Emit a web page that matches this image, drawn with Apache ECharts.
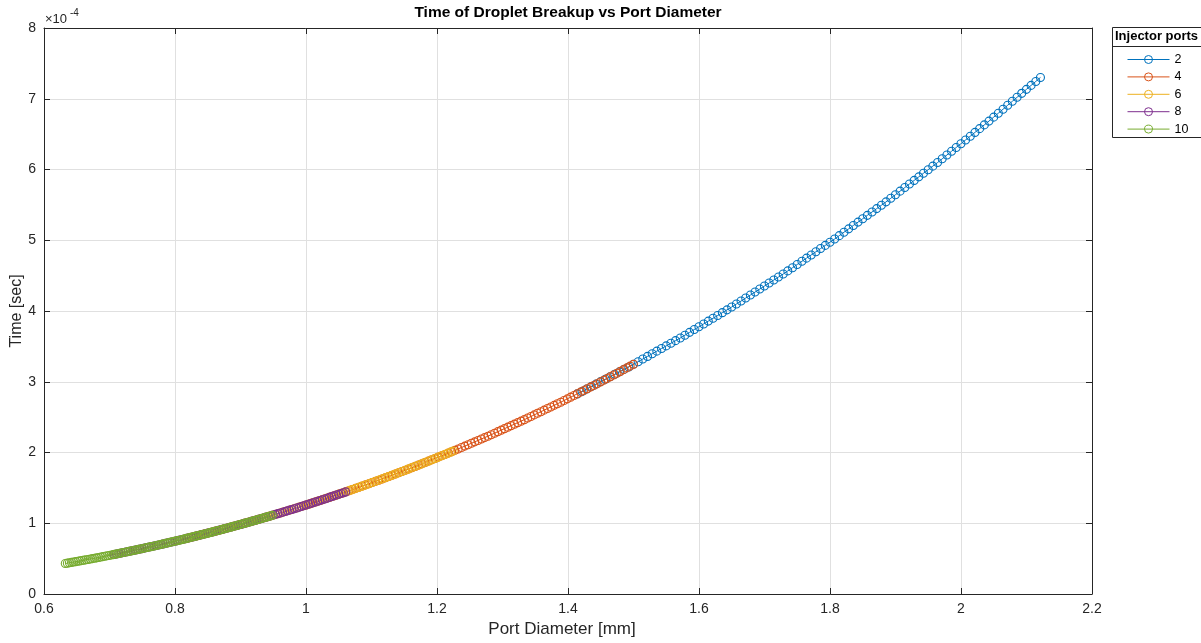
<!DOCTYPE html>
<html>
<head>
<meta charset="utf-8">
<script src="https://cdn.jsdelivr.net/npm/echarts@6/dist/echarts.min.js"></script>
<style>
html,body{margin:0;padding:0;background:#fff;}
#chart{width:1201px;height:643px;}
</style>
</head>
<body>
<div id="chart"></div>
<script>
// Legend names (injector ports)
const portNames = ['2', '4', '6', '8', '10'];
const xTicks = ['0.6','0.8','1','1.2','1.4','1.6','1.8','2','2.2'];
const yTicks = ['0','1','2','3','4','5','6','7','8'];

// Port diameter [mm] and time [x 1e-4 sec] for each series
const diam2 = [1.4142,1.4214,1.4285,1.4356,1.4428,1.4499,1.4571,1.4642,1.4714,1.4785,1.4856,1.4928,1.4999,1.5071,1.5142,1.5214,1.5285,1.5356,1.5428,1.5499,1.5571,1.5642,1.5714,1.5785,1.5856,1.5928,1.5999,1.6071,1.6142,1.6214,1.6285,1.6356,1.6428,1.6499,1.6571,1.6642,1.6713,1.6785,1.6856,1.6928,1.6999,1.7071,1.7142,1.7213,1.7285,1.7356,1.7428,1.7499,1.7571,1.7642,1.7713,1.7785,1.7856,1.7928,1.7999,1.8071,1.8142,1.8213,1.8285,1.8356,1.8428,1.8499,1.8570,1.8642,1.8713,1.8785,1.8856,1.8928,1.8999,1.9070,1.9142,1.9213,1.9285,1.9356,1.9427,1.9499,1.9570,1.9642,1.9713,1.9785,1.9856,1.9927,1.9999,2.0070,2.0142,2.0213,2.0284,2.0356,2.0427,2.0499,2.0570,2.0642,2.0713,2.0784,2.0856,2.0927,2.0999,2.1070,2.1142,2.1213];
const time2 = [2.8281,2.8628,2.8974,2.9321,2.9667,3.0014,3.0360,3.0707,3.1053,3.1400,3.1747,3.2093,3.2465,3.2837,3.3209,3.3581,3.3953,3.4325,3.4697,3.5068,3.5440,3.5812,3.6184,3.6582,3.6979,3.7377,3.7775,3.8173,3.8570,3.8968,3.9366,3.9764,4.0161,4.0559,4.0983,4.1407,4.1830,4.2254,4.2678,4.3102,4.3526,4.3950,4.4373,4.4797,4.5221,4.5671,4.6122,4.6572,4.7023,4.7473,4.7924,4.8374,4.8825,4.9275,4.9725,5.0176,5.0653,5.1131,5.1608,5.2085,5.2563,5.3040,5.3518,5.3995,5.4472,5.4950,5.5427,5.5932,5.6437,5.6942,5.7447,5.7952,5.8457,5.8961,5.9466,5.9971,6.0476,6.0981,6.1514,6.2046,6.2579,6.3112,6.3644,6.4177,6.4710,6.5242,6.5775,6.6307,6.6840,6.7401,6.7961,6.8522,6.9083,6.9643,7.0204,7.0765,7.1326,7.1886,7.2447,7.3008];

const diam4 = [1.0000,1.0051,1.0101,1.0152,1.0202,1.0253,1.0303,1.0354,1.0404,1.0455,1.0505,1.0556,1.0606,1.0657,1.0707,1.0758,1.0808,1.0859,1.0909,1.0960,1.1010,1.1061,1.1111,1.1162,1.1212,1.1263,1.1313,1.1364,1.1414,1.1465,1.1515,1.1566,1.1616,1.1667,1.1717,1.1768,1.1818,1.1869,1.1919,1.1970,1.2020,1.2071,1.2121,1.2172,1.2222,1.2273,1.2323,1.2374,1.2424,1.2475,1.2525,1.2576,1.2626,1.2677,1.2727,1.2778,1.2828,1.2879,1.2929,1.2980,1.3030,1.3081,1.3131,1.3182,1.3232,1.3283,1.3333,1.3384,1.3434,1.3485,1.3535,1.3586,1.3636,1.3687,1.3737,1.3788,1.3838,1.3889,1.3939,1.3990,1.4040,1.4091,1.4141,1.4192,1.4242,1.4293,1.4343,1.4394,1.4444,1.4495,1.4545,1.4596,1.4646,1.4697,1.4747,1.4798,1.4848,1.4899,1.4949,1.5000];
const time4 = [1.2573,1.2727,1.2881,1.3035,1.3189,1.3343,1.3497,1.3651,1.3806,1.3960,1.4114,1.4268,1.4433,1.4599,1.4764,1.4929,1.5095,1.5260,1.5425,1.5590,1.5756,1.5921,1.6087,1.6263,1.6440,1.6617,1.6794,1.6971,1.7148,1.7324,1.7501,1.7678,1.7855,1.8032,1.8220,1.8408,1.8597,1.8785,1.8974,1.9162,1.9351,1.9539,1.9727,1.9916,2.0104,2.0304,2.0505,2.0705,2.0905,2.1105,2.1306,2.1506,2.1706,2.1907,2.2107,2.2307,2.2519,2.2731,2.2944,2.3156,2.3368,2.3580,2.3793,2.4005,2.4217,2.4429,2.4641,2.4866,2.5090,2.5315,2.5539,2.5764,2.5988,2.6213,2.6437,2.6662,2.6886,2.7111,2.7347,2.7584,2.7821,2.8058,2.8295,2.8531,2.8768,2.9005,2.9242,2.9479,2.9715,2.9965,3.0214,3.0463,3.0712,3.0962,3.1211,3.1460,3.1710,3.1959,3.2208,3.2458];

const diam6 = [0.8165,0.8206,0.8247,0.8289,0.8330,0.8371,0.8412,0.8454,0.8495,0.8536,0.8577,0.8619,0.8660,0.8701,0.8742,0.8784,0.8825,0.8866,0.8907,0.8949,0.8990,0.9031,0.9072,0.9113,0.9155,0.9196,0.9237,0.9278,0.9320,0.9361,0.9402,0.9443,0.9485,0.9526,0.9567,0.9608,0.9650,0.9691,0.9732,0.9773,0.9814,0.9856,0.9897,0.9938,0.9979,1.0021,1.0062,1.0103,1.0144,1.0186,1.0227,1.0268,1.0309,1.0351,1.0392,1.0433,1.0474,1.0516,1.0557,1.0598,1.0639,1.0681,1.0722,1.0763,1.0804,1.0845,1.0887,1.0928,1.0969,1.1010,1.1052,1.1093,1.1134,1.1175,1.1217,1.1258,1.1299,1.1340,1.1382,1.1423,1.1464,1.1505,1.1547,1.1588,1.1629,1.1670,1.1712,1.1753,1.1794,1.1835,1.1876,1.1918,1.1959,1.2000,1.2041,1.2083,1.2124,1.2165,1.2206,1.2247];
const time6 = [0.7825,0.7921,0.8017,0.8113,0.8209,0.8305,0.8401,0.8497,0.8593,0.8688,0.8784,0.8880,0.8983,0.9086,0.9189,0.9292,0.9395,0.9498,0.9600,0.9703,0.9806,0.9909,1.0012,1.0122,1.0232,1.0342,1.0452,1.0562,1.0672,1.0782,1.0892,1.1002,1.1113,1.1223,1.1340,1.1457,1.1574,1.1692,1.1809,1.1926,1.2043,1.2161,1.2278,1.2395,1.2513,1.2637,1.2762,1.2887,1.3011,1.3136,1.3260,1.3385,1.3510,1.3634,1.3759,1.3884,1.4016,1.4148,1.4280,1.4412,1.4544,1.4676,1.4808,1.4940,1.5072,1.5205,1.5337,1.5476,1.5616,1.5756,1.5895,1.6035,1.6175,1.6315,1.6454,1.6594,1.6734,1.6873,1.7021,1.7168,1.7316,1.7463,1.7610,1.7758,1.7905,1.8053,1.8200,1.8347,1.8495,1.8650,1.8805,1.8960,1.9115,1.9270,1.9425,1.9580,1.9736,1.9891,2.0046,2.0201];

const diam8 = [0.7071,0.7107,0.7142,0.7178,0.7214,0.7250,0.7285,0.7321,0.7357,0.7392,0.7428,0.7464,0.7500,0.7535,0.7571,0.7607,0.7642,0.7678,0.7714,0.7750,0.7785,0.7821,0.7857,0.7892,0.7928,0.7964,0.8000,0.8035,0.8071,0.8107,0.8142,0.8178,0.8214,0.8250,0.8285,0.8321,0.8357,0.8392,0.8428,0.8464,0.8500,0.8535,0.8571,0.8607,0.8642,0.8678,0.8714,0.8750,0.8785,0.8821,0.8857,0.8892,0.8928,0.8964,0.9000,0.9035,0.9071,0.9107,0.9142,0.9178,0.9214,0.9249,0.9285,0.9321,0.9357,0.9392,0.9428,0.9464,0.9499,0.9535,0.9571,0.9607,0.9642,0.9678,0.9714,0.9749,0.9785,0.9821,0.9857,0.9892,0.9928,0.9964,0.9999,1.0035,1.0071,1.0107,1.0142,1.0178,1.0214,1.0249,1.0285,1.0321,1.0357,1.0392,1.0428,1.0464,1.0499,1.0535,1.0571,1.0607];
const time8 = [0.5590,0.5658,0.5727,0.5795,0.5864,0.5932,0.6001,0.6069,0.6138,0.6206,0.6275,0.6343,0.6417,0.6490,0.6564,0.6637,0.6711,0.6784,0.6858,0.6931,0.7005,0.7078,0.7152,0.7230,0.7309,0.7388,0.7466,0.7545,0.7623,0.7702,0.7781,0.7859,0.7938,0.8016,0.8100,0.8184,0.8268,0.8352,0.8435,0.8519,0.8603,0.8687,0.8771,0.8854,0.8938,0.9027,0.9116,0.9205,0.9294,0.9383,0.9472,0.9561,0.9650,0.9739,0.9828,0.9917,1.0012,1.0106,1.0200,1.0295,1.0389,1.0484,1.0578,1.0672,1.0767,1.0861,1.0955,1.1055,1.1155,1.1255,1.1354,1.1454,1.1554,1.1654,1.1753,1.1853,1.1953,1.2053,1.2158,1.2263,1.2369,1.2474,1.2579,1.2685,1.2790,1.2895,1.3000,1.3106,1.3211,1.3322,1.3433,1.3543,1.3654,1.3765,1.3876,1.3987,1.4098,1.4208,1.4319,1.4430];

const diam10 = [0.6325,0.6357,0.6388,0.6420,0.6452,0.6484,0.6516,0.6548,0.6580,0.6612,0.6644,0.6676,0.6708,0.6740,0.6772,0.6804,0.6836,0.6868,0.6900,0.6931,0.6963,0.6995,0.7027,0.7059,0.7091,0.7123,0.7155,0.7187,0.7219,0.7251,0.7283,0.7315,0.7347,0.7379,0.7411,0.7443,0.7475,0.7506,0.7538,0.7570,0.7602,0.7634,0.7666,0.7698,0.7730,0.7762,0.7794,0.7826,0.7858,0.7890,0.7922,0.7954,0.7986,0.8018,0.8050,0.8081,0.8113,0.8145,0.8177,0.8209,0.8241,0.8273,0.8305,0.8337,0.8369,0.8401,0.8433,0.8465,0.8497,0.8529,0.8561,0.8592,0.8624,0.8656,0.8688,0.8720,0.8752,0.8784,0.8816,0.8848,0.8880,0.8912,0.8944,0.8976,0.9008,0.9040,0.9072,0.9104,0.9136,0.9167,0.9199,0.9231,0.9263,0.9295,0.9327,0.9359,0.9391,0.9423,0.9455,0.9487];
const time10 = [0.4306,0.4359,0.4411,0.4464,0.4517,0.4570,0.4622,0.4675,0.4728,0.4781,0.4833,0.4886,0.4943,0.4999,0.5056,0.5113,0.5169,0.5226,0.5283,0.5339,0.5396,0.5452,0.5509,0.5570,0.5630,0.5691,0.5751,0.5812,0.5872,0.5933,0.5993,0.6054,0.6115,0.6175,0.6240,0.6304,0.6369,0.6433,0.6498,0.6562,0.6627,0.6691,0.6756,0.6820,0.6885,0.6954,0.7022,0.7091,0.7159,0.7228,0.7296,0.7365,0.7434,0.7502,0.7571,0.7639,0.7712,0.7785,0.7857,0.7930,0.8003,0.8075,0.8148,0.8221,0.8293,0.8366,0.8439,0.8516,0.8592,0.8669,0.8746,0.8823,0.8900,0.8977,0.9053,0.9130,0.9207,0.9284,0.9365,0.9447,0.9528,0.9609,0.9690,0.9771,0.9852,0.9933,1.0014,1.0095,1.0176,1.0262,1.0347,1.0432,1.0518,1.0603,1.0689,1.0774,1.0859,1.0945,1.1030,1.1115];

const diams = [diam2, diam4, diam6, diam8, diam10];
const times = [time2, time4, time6, time8, time10];
const colors = ['#0072BD', '#D95319', '#EDB120', '#7E2F8E', '#77AC30'];
const FONT = "'Liberation Sans', Arial, Helvetica, sans-serif";
const AX = '#262626';

const chart = echarts.init(document.getElementById('chart'), null, {renderer: 'canvas'});

const series = portNames.map((name, k) => ({
  name: name,
  type: 'line',
  xAxisIndex: 0,
  yAxisIndex: 0,
  data: diams[k].map((d, i) => [d, times[k][i]]),
  symbol: 'circle',
  symbolSize: 8,
  showSymbol: true,
  showAllSymbol: true,
  lineStyle: {color: colors[k], width: 1},
  itemStyle: {color: 'rgba(0,0,0,0)', borderColor: colors[k], borderWidth: 1.1},
  emphasis: {disabled: true},
  silent: true,
  animation: false
}));

const axisCommon = {
  axisLine: {show: true, onZero: false, lineStyle: {color: AX, width: 1}},
  axisTick: {show: true, inside: true, length: 6, lineStyle: {color: AX, width: 1}},
};

const option = {
  animation: false,
  backgroundColor: '#fff',
  grid: {left: 44, top: 28, width: 1048, height: 566, containLabel: false},
  xAxis: [
    Object.assign({
      type: 'value', min: 0.6, max: 2.2, interval: 0.2, position: 'bottom',
      axisLabel: {show: true, margin: 8, fontSize: 14, color: AX, fontFamily: FONT,
        formatter: (v) => xTicks[Math.round((v - 0.6) / 0.2)]},
      splitLine: {show: true, lineStyle: {color: '#e0e0e0', width: 1}}
    }, axisCommon),
    Object.assign({
      type: 'value', min: 0.6, max: 2.2, interval: 0.2, position: 'top',
      axisLabel: {show: false}, splitLine: {show: false}
    }, axisCommon)
  ],
  yAxis: [
    Object.assign({
      type: 'value', min: 0, max: 8, interval: 1, position: 'left',
      axisLabel: {show: true, margin: 8, fontSize: 14, color: AX, fontFamily: FONT,
        formatter: (v) => yTicks[Math.round(v)]},
      splitLine: {show: true, lineStyle: {color: '#e0e0e0', width: 1}}
    }, axisCommon),
    Object.assign({
      type: 'value', min: 0, max: 8, interval: 1, position: 'right',
      axisLabel: {show: false}, splitLine: {show: false}
    }, axisCommon)
  ],
  legend: {
    orient: 'vertical',
    left: 1127, top: 53,
    padding: 0,
    itemWidth: 42, itemHeight: 10, itemGap: 4.4,
    selectedMode: false,
    textStyle: {fontSize: 12.5, color: '#000', fontFamily: FONT},
    data: portNames.map((n, k) => ({
      name: n,
      itemStyle: {color: 'rgba(0,0,0,0)', borderColor: colors[k], borderWidth: 1},
      lineStyle: {color: colors[k], width: 1}
    }))
  },
  graphic: [
    {type: 'rect', left: 1112, top: 27, z: 0, silent: true,
      shape: {width: 100, height: 110},
      style: {fill: '#fff', stroke: AX, lineWidth: 1}},
    {type: 'line', z: 1, silent: true,
      shape: {x1: 1112, y1: 46.5, x2: 1201, y2: 46.5},
      style: {stroke: AX, lineWidth: 1}},
    {type: 'text', left: 1115, top: 30, z: 2, silent: true,
      style: {text: 'Injector ports', fontSize: 13, fontWeight: 'bold', fill: '#000', fontFamily: FONT}},
    {type: 'text', x: 568, y: 5, z: 2, silent: true,
      style: {text: 'Time of Droplet Breakup vs Port Diameter', fontSize: 15.5, fontWeight: 'bold', fill: '#000', fontFamily: FONT, align: 'center', verticalAlign: 'top'}},
    {type: 'text', x: 562, y: 621, z: 2, silent: true,
      style: {text: 'Port Diameter [mm]', fontSize: 17, fill: AX, fontFamily: FONT, align: 'center', verticalAlign: 'top'}},
    {type: 'text', x: 9, y: 311, rotation: Math.PI / 2, z: 2, silent: true,
      style: {text: 'Time [sec]', fontSize: 16, fill: AX, fontFamily: FONT, align: 'center', verticalAlign: 'top'}},
    {type: 'text', left: 45, top: 13, z: 2, silent: true,
      style: {text: '\u00d710', fontSize: 13, fill: AX, fontFamily: FONT}},
    {type: 'text', left: 70, top: 8, z: 2, silent: true,
      style: {text: '-4', fontSize: 10, fill: AX, fontFamily: FONT}}
  ],
  series: series
};
chart.setOption(option);
</script>
</body>
</html>
